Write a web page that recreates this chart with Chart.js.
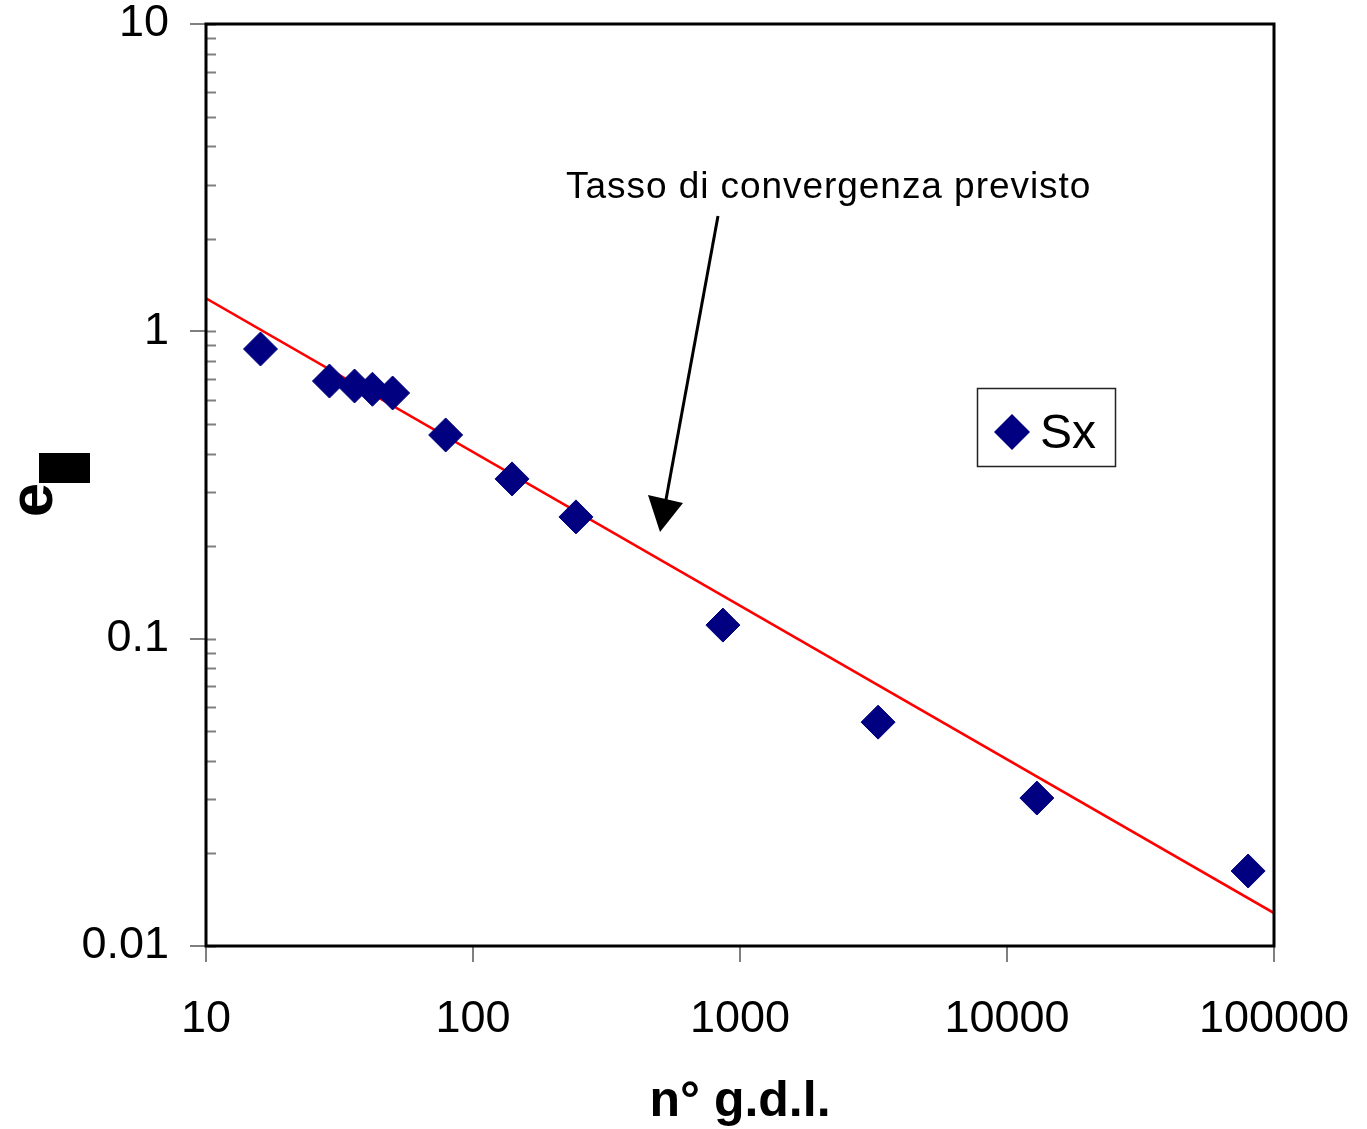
<!DOCTYPE html>
<html>
<head>
<meta charset="utf-8">
<script src="https://cdn.jsdelivr.net/npm/chart.js@4/dist/chart.umd.min.js"></script>
<style>
    body { margin: 0; background: #fff; }
    canvas { display: block; }
</style>
</head>
<body>
<canvas id="Grafico1" width="1367" height="1129"></canvas>
<script>
// dati
let gdl = [16, 29, 36, 42, 50, 79, 140, 243, 863, 3290, 12940, 80000];
let errSx = [0.876, 0.689, 0.664, 0.648, 0.630, 0.460, 0.331, 0.249, 0.1107, 0.0535, 0.0303, 0.01754];
let tassoX = [10, 100000];
let tassoY = [1.28, 0.0128];
let xTicks = [10, 100, 1000, 10000, 100000];
let yTicks = [0.01, 0.1, 1, 10];
let yMinori = [2, 3, 4, 5, 6, 7, 8, 9];

const FONT = '"Liberation Sans", Arial, sans-serif';

let puntiSx = gdl.map((x, i) => ({ x: x, y: errSx[i] }));
let puntiTasso = tassoX.map((x, i) => ({ x: x, y: tassoY[i] }));

let decorazioni = {
    id: 'decorazioni',
    afterDraw(chart) {
        let ctx = chart.ctx;
        let area = chart.chartArea;
        let ys = chart.scales.y;
        ctx.save();

        // tacche interne asse y
        ctx.strokeStyle = '#7f7f7f';
        ctx.lineWidth = 2;
        let valori = [];
        for (let k = 0; k < yTicks.length; k++) {
            valori.push(yTicks[k]);
            if (k < yTicks.length - 1) {
                yMinori.forEach(m => valori.push(yTicks[k] * m));
            }
        }
        valori.forEach(v => {
            let py = Math.round(ys.getPixelForValue(v)) + 0.5;
            ctx.beginPath();
            ctx.moveTo(area.left, py);
            ctx.lineTo(area.left + 10, py);
            ctx.stroke();
        });

        // cornice
        ctx.strokeStyle = '#000';
        ctx.lineWidth = 3;
        ctx.strokeRect(area.left, area.top, area.right - area.left, area.bottom - area.top);

        // titolo asse y
        ctx.fillStyle = '#000';
        ctx.save();
        ctx.translate(52, 500);
        ctx.rotate(-Math.PI / 2);
        ctx.font = 'bold 62px ' + FONT;
        ctx.textAlign = 'center';
        ctx.textBaseline = 'alphabetic';
        ctx.fillText('e', 0, 0);
        ctx.restore();
        ctx.fillRect(39, 453, 51, 30);

        // freccia e testo
        ctx.font = '37px ' + FONT;
        ctx.letterSpacing = '0.95px';
        ctx.textAlign = 'left';
        ctx.textBaseline = 'alphabetic';
        ctx.fillText('Tasso di convergenza previsto', 566, 198);
        ctx.letterSpacing = '0px';
        ctx.lineWidth = 3;
        ctx.beginPath();
        ctx.moveTo(718, 216);
        ctx.lineTo(665, 505);
        ctx.stroke();
        ctx.beginPath();
        ctx.moveTo(648, 495);
        ctx.lineTo(683, 503);
        ctx.lineTo(660, 532);
        ctx.closePath();
        ctx.fill();

        // legenda
        ctx.fillStyle = '#fff';
        ctx.fillRect(977, 388, 138, 78);
        ctx.strokeStyle = '#222';
        ctx.lineWidth = 1.5;
        ctx.strokeRect(977.5, 388.5, 138, 78);
        ctx.fillStyle = '#000080';
        ctx.beginPath();
        ctx.moveTo(1012, 414);
        ctx.lineTo(1030, 432);
        ctx.lineTo(1012, 450);
        ctx.lineTo(994, 432);
        ctx.closePath();
        ctx.fill();
        ctx.fillStyle = '#000';
        ctx.font = '48px ' + FONT;
        ctx.fillText('Sx', 1040, 448);

        ctx.restore();
    }
};

let CanvasG1 = document.getElementById('Grafico1').getContext('2d');
let datos = {
    datasets: [{
            type: 'scatter',
            label: 'Sx',
            data: puntiSx,
            pointStyle: 'rectRot',
            pointRadius: 17,
            pointHoverRadius: 17,
            backgroundColor: '#000080',
            borderColor: '#000080',
            borderWidth: 1
        },
        {
            type: 'line',
            label: 'Tasso di convergenza previsto',
            data: puntiTasso,
            borderColor: '#ff0000',
            borderWidth: 2.5,
            pointRadius: 0,
            fill: false
        }
    ]
};
let opciones = {
    responsive: false,
    animation: false,
    layout: {
        padding: { left: 0, top: 24, right: 93, bottom: 0 }
    },
    plugins: {
        legend: { display: false },
        tooltip: { enabled: false }
    },
    scales: {
        x: {
            type: 'logarithmic',
            position: 'bottom',
            min: 10,
            max: 100000,
            afterBuildTicks: scale => { scale.ticks = xTicks.map(v => ({ value: v })); },
            afterFit: scale => {
                scale.height = 183;
                scale.paddingLeft = 0;
                scale.paddingRight = 0;
            },
            border: { display: false },
            grid: { drawOnChartArea: false, tickLength: 16, color: '#7f7f7f', lineWidth: 2 },
            ticks: {
                color: '#000',
                padding: 31,
                maxRotation: 0,
                font: { family: FONT, size: 45 },
                callback: v => String(v)
            },
            title: {
                display: true,
                text: 'n° g.d.l.',
                color: '#000',
                padding: { top: 0, bottom: -3 },
                font: { family: FONT, size: 50, weight: 'bold' }
            }
        },
        y: {
            type: 'logarithmic',
            min: 0.01,
            max: 10,
            afterBuildTicks: scale => { scale.ticks = yTicks.map(v => ({ value: v })); },
            afterFit: scale => {
                scale.width = 206;
                scale.paddingTop = 0;
                scale.paddingBottom = 0;
            },
            border: { display: false },
            grid: { drawOnChartArea: false, tickLength: 16, color: '#7f7f7f', lineWidth: 2 },
            ticks: {
                color: '#000',
                padding: 21,
                font: { family: FONT, size: 45 },
                callback: v => String(v)
            }
        }
    }
};
let G1 = new Chart(CanvasG1, {
    data: datos,
    options: opciones,
    plugins: [decorazioni]
});
</script>
</body>
</html>
